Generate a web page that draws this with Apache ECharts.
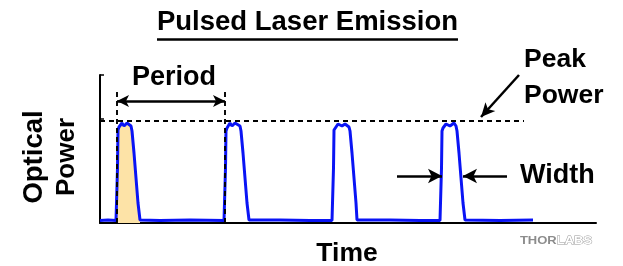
<!DOCTYPE html>
<html>
<head>
<meta charset="utf-8">
<script src="https://cdn.jsdelivr.net/npm/echarts@6/dist/echarts.min.js"></script>
<style>
  html, body { margin: 0; padding: 0; background: #fff; }
  #chart { width: 623px; height: 266px; }
</style>
</head>
<body>
<div id="chart"></div>
<script>
// measured trace: [time, optical power], peak normalised to ~1
const pulseTrace = [
  [0, 0.025], [8, 0.03], [16, 0.025],
  // pulse 1
  [17, 0.03], [17.5, 0.55], [18, 0.93], [19, 0.96], [20, 0.94], [22, 1.0], [24, 0.97], [25, 0.98],
  [27, 1.0], [29, 0.99], [31, 0.97], [32, 0.92], [34, 0.7], [36, 0.45], [38, 0.2], [40, 0.03],
  [60, 0.025], [90, 0.03], [124, 0.025],
  // pulse 2
  [125, 0.03], [125.5, 0.55], [126, 0.92], [127, 0.95], [128, 0.93], [130, 1.0], [132, 0.97], [133, 0.98],
  [135, 1.0], [137, 0.99], [140, 0.97], [141, 0.92], [143, 0.7], [145, 0.45], [147, 0.2], [149, 0.03],
  [180, 0.03], [210, 0.025], [232, 0.025],
  // pulse 3
  [233, 0.03], [233.5, 0.55], [234, 0.93], [235, 0.95], [236, 0.94], [238, 0.99], [240, 1.0], [242, 0.97],
  [245, 0.99], [247, 0.98], [249, 0.96], [250, 0.92], [252, 0.7], [254, 0.45], [256, 0.2], [257, 0.03],
  [290, 0.03], [320, 0.025], [340, 0.025],
  // pulse 4
  [341, 0.03], [341.5, 0.55], [342, 0.92], [343, 0.95], [344, 0.93], [346, 0.99], [348, 1.0], [350, 0.97],
  [352, 0.98], [354, 1.0], [356, 0.97], [357, 0.92], [359, 0.7], [361, 0.45], [363, 0.2], [365, 0.03],
  [400, 0.025], [433, 0.03]
]

// shaded area under the first pulse
const shadedPulse = [
  [17, 0.03], [17.5, 0.55], [18, 0.93], [19, 0.96], [20, 0.94], [22, 1.0], [24, 0.97], [25, 0.98],
  [27, 1.0], [29, 0.99], [31, 0.97], [32, 0.92], [34, 0.7], [36, 0.45], [38, 0.2], [40, 0.03]
]

const peakLevel = 1.02
const peakLineEnd = 424
const periodMarks = [17, 125] // start of pulse 1 and 2
const periodTop = 1.31
const periodArrowY = 1.22
const widthArrowY = 0.47
const widthLeftArrow = [297, 342]
const widthRightArrow = [407, 363]
const peakArrow = [[419, 1.48], [381, 1.06]]

const chart = echarts.init(document.getElementById('chart'))

const dashStyle = { color: '#000', width: 1.9, type: [5, 4] }
const arrowStyle = { color: '#000', width: 2.5, type: 'solid' }
const font = '"Liberation Sans", Arial, sans-serif'

const option = {
  animation: false,
  grid: { left: 100, right: 27, top: 75, bottom: 43 },
  xAxis: {
    type: 'value',
    min: 0,
    max: 496,
    axisLine: { show: true, onZero: false, lineStyle: { color: '#000', width: 2 } },
    axisTick: { show: false },
    axisLabel: { show: false },
    splitLine: { show: false },
  },
  yAxis: {
    type: 'value',
    min: 0,
    max: 1.48,
    interval: 1.04,
    axisLine: { show: true, lineStyle: { color: '#000', width: 2 } },
    axisTick: { show: true, inside: true, length: 4, lineStyle: { color: '#000', width: 1.5 } },
    axisLabel: { show: false },
    splitLine: { show: false },
  },
  series: [
    {
      type: 'line',
      data: shadedPulse,
      symbol: 'none',
      lineStyle: { width: 0 },
      areaStyle: { color: '#FDE3A7', opacity: 1 },
      z: 1,
      silent: true,
    },
    {
      // annotations: dashed guides and arrows
      type: 'line',
      data: [],
      z: 3,
      markLine: {
        silent: true,
        symbol: ['none', 'none'],
        label: { show: false },
        data: [
          [{ coord: [0, peakLevel], lineStyle: dashStyle }, { coord: [peakLineEnd, peakLevel] }],
          [{ coord: [periodMarks[0], 0], lineStyle: dashStyle }, { coord: [periodMarks[0], periodTop] }],
          [{ coord: [periodMarks[1], 0], lineStyle: dashStyle }, { coord: [periodMarks[1], periodTop] }],
          [
            { coord: [periodMarks[0], periodArrowY], lineStyle: arrowStyle, symbol: 'arrow', symbolSize: [9, 12] },
            { coord: [periodMarks[1], periodArrowY], symbol: 'arrow', symbolSize: [9, 12] },
          ],
          [
            { coord: [widthLeftArrow[0], widthArrowY], lineStyle: arrowStyle, symbol: 'none' },
            { coord: [widthLeftArrow[1], widthArrowY], symbol: 'arrow', symbolSize: [11, 14] },
          ],
          [
            { coord: [widthRightArrow[0], widthArrowY], lineStyle: arrowStyle, symbol: 'none' },
            { coord: [widthRightArrow[1], widthArrowY], symbol: 'arrow', symbolSize: [11, 14] },
          ],
          [
            { coord: peakArrow[0], lineStyle: arrowStyle, symbol: 'none' },
            { coord: peakArrow[1], symbol: 'arrow', symbolSize: [10, 14] },
          ],
        ],
      },
    },
    {
      type: 'line',
      data: pulseTrace,
      symbol: 'none',
      lineStyle: { color: '#0A14F5', width: 3 },
      z: 4,
      silent: true,
    },
  ],
  graphic: [
    {
      type: 'text', x: 307.5, y: 22,
      style: { text: 'Pulsed Laser Emission', font: 'bold 27.5px ' + font, fill: '#000', align: 'center', verticalAlign: 'middle' },
    },
    {
      type: 'line', shape: { x1: 157, y1: 39.5, x2: 458, y2: 39.5 },
      style: { stroke: '#000', lineWidth: 2.5 },
    },
    {
      type: 'text', x: 174, y: 78,
      style: { text: 'Period', font: 'bold 27px ' + font, fill: '#000', align: 'center', verticalAlign: 'middle' },
    },
    {
      type: 'text', x: 524, y: 60,
      style: { text: 'Peak', font: 'bold 26.5px ' + font, fill: '#000', align: 'left', verticalAlign: 'middle' },
    },
    {
      type: 'text', x: 524, y: 96,
      style: { text: 'Power', font: 'bold 26.5px ' + font, fill: '#000', align: 'left', verticalAlign: 'middle' },
    },
    {
      type: 'text', x: 520, y: 176,
      style: { text: 'Width', font: 'bold 27px ' + font, fill: '#000', align: 'left', verticalAlign: 'middle' },
    },
    {
      type: 'text', x: 347, y: 254,
      style: { text: 'Time', font: 'bold 26.5px ' + font, fill: '#000', align: 'center', verticalAlign: 'middle' },
    },
    {
      type: 'text', x: 34, y: 157, rotation: Math.PI / 2,
      style: { text: 'Optical', font: 'bold 27.5px ' + font, fill: '#000', align: 'center', verticalAlign: 'middle' },
    },
    {
      type: 'text', x: 67, y: 157, rotation: Math.PI / 2,
      style: { text: 'Power', font: 'bold 26px ' + font, fill: '#000', align: 'center', verticalAlign: 'middle' },
    },
    {
      type: 'text', x: 556, y: 241, scaleX: 1.3,
      style: {
        text: '{a|THOR}{b|LABS}',
        align: 'center', verticalAlign: 'middle',
        rich: {
          a: { font: 'bold 10px ' + font, fill: '#8c8c8c' },
          b: { font: 'bold 10px ' + font, fill: '#fff', stroke: '#999', lineWidth: 0.8 },
        },
      },
    },
  ],
}

chart.setOption(option)
window.addEventListener('resize', () => chart.resize())
</script>
</body>
</html>
